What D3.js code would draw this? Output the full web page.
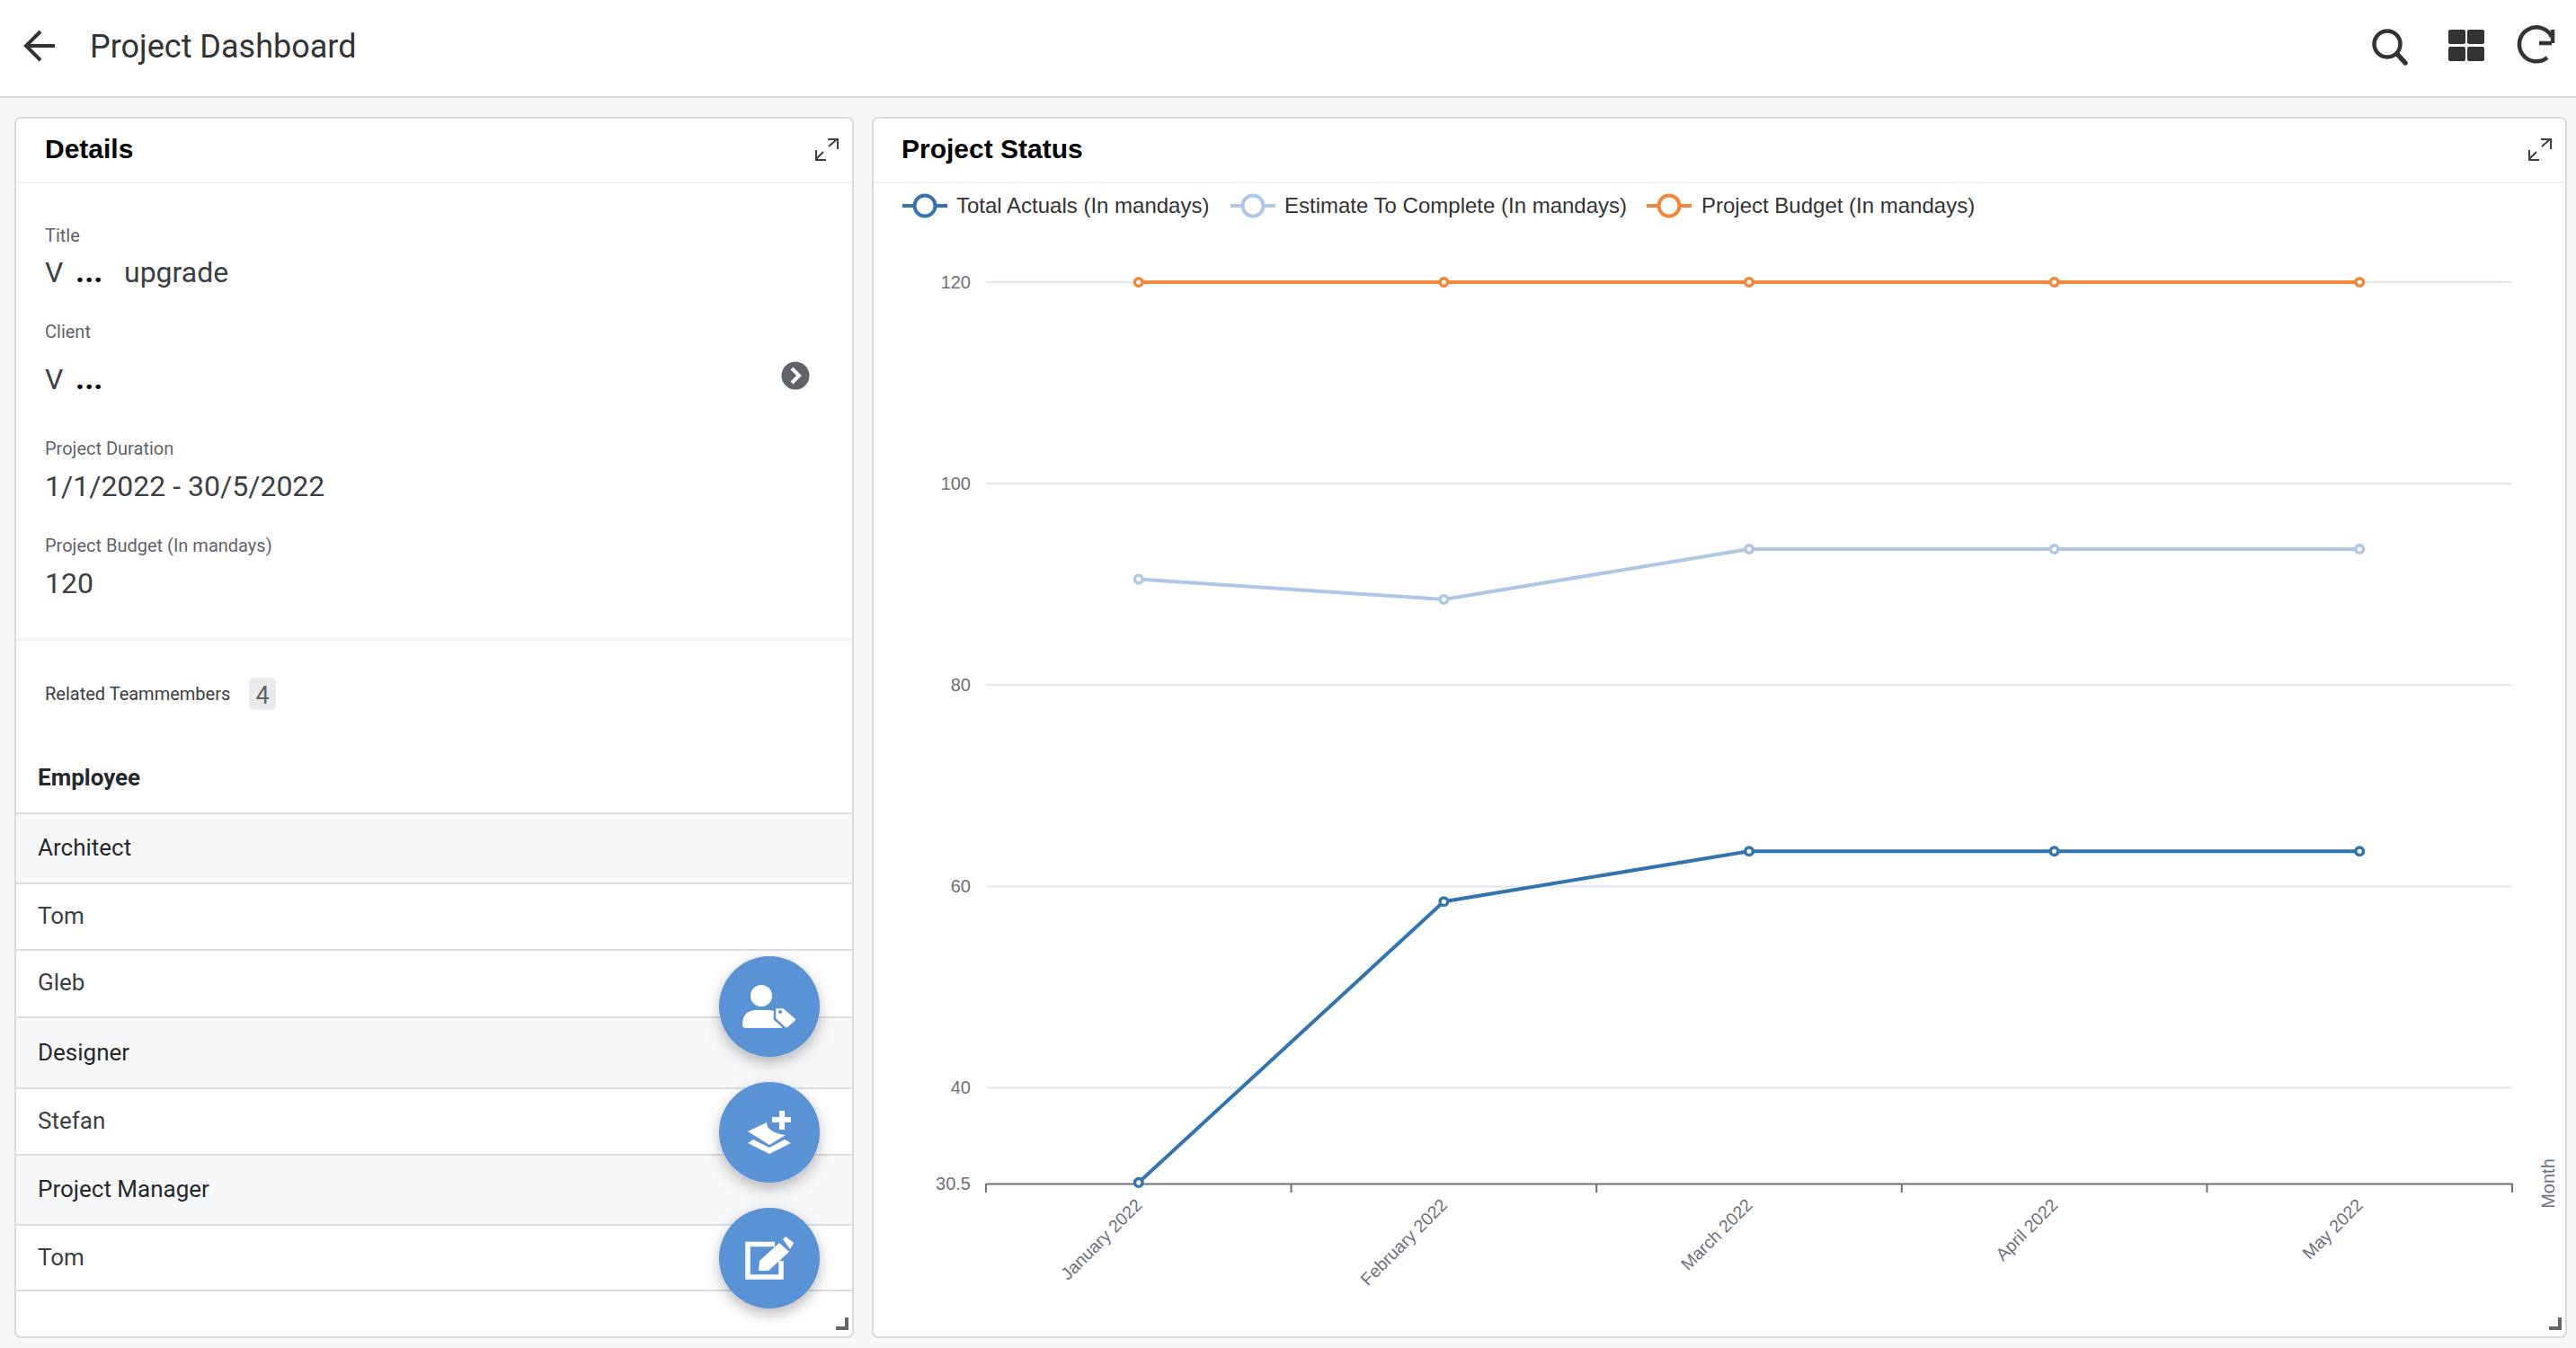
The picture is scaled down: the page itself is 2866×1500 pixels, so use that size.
<!DOCTYPE html>
<html>
<head>
<meta charset="utf-8">
<title>Project Dashboard</title>
<script src="https://cdn.jsdelivr.net/npm/d3@7"></script>
<style>
  html, body { margin: 0; padding: 0; background: #f6f7f9; }
  svg { display: block; }
  text { font-family: Roboto, sans-serif; }
  .chart text { font-family: "Liberation Sans", Arial, sans-serif; }
</style>
</head>
<body>
<svg id="page" width="2866" height="1500"></svg>
<script>
// chart data
const months = ['January 2022', 'February 2022', 'March 2022', 'April 2022', 'May 2022'];
const totalActuals = [30.6, 58.5, 63.5, 63.5, 63.5];
const estimateToComplete = [90.5, 88.5, 93.5, 93.5, 93.5];
const projectBudget = [120, 120, 120, 120, 120];
const yTicks = [30.5, 40, 60, 80, 100, 120];
const seriesNames = ['Total Actuals (In mandays)', 'Estimate To Complete (In mandays)', 'Project Budget (In mandays)'];
const seriesColors = ['#3274b0', '#aec7e8', '#f0873a'];

// details panel text
const detailFields = [
  { label: 'Title', value: 'V', dots: true, extra: 'upgrade', ly: 269, vy: 314 },
  { label: 'Client', value: 'V', dots: true, ly: 376, vy: 433 },
  { label: 'Project Duration', value: '1/1/2022 - 30/5/2022', ly: 506, vy: 552 },
  { label: 'Project Budget (In mandays)', value: '120', ly: 614, vy: 660 }
];
const teamNames = ['Architect', 'Tom', 'Gleb', 'Designer', 'Stefan', 'Project Manager', 'Tom'];
const teamIsRole = [true, false, false, true, false, true, false];
const teamBaselines = [952, 1028, 1102, 1180, 1256, 1332, 1408];
const rowLines = [905, 983, 1057, 1132, 1211, 1285, 1363, 1436];

const svg = d3.select('#page');

// soft shadow for the round buttons
const shadow = svg.append('defs').append('filter').attr('id', 'fabShadow')
  .attr('x', '-40%').attr('y', '-40%').attr('width', '180%').attr('height', '180%');
shadow.append('feDropShadow').attr('dx', 0).attr('dy', 6).attr('stdDeviation', 8)
  .attr('flood-color', '#000').attr('flood-opacity', 0.28);

// top bar
svg.append('rect').attr('width', 2866).attr('height', 108).attr('fill', '#fff');
svg.append('rect').attr('y', 107).attr('width', 2866).attr('height', 2).attr('fill', '#dcdde1');
svg.append('path').attr('d', 'M61 51H30M45 35L29 51L45 67')
  .attr('fill', 'none').attr('stroke', '#333').attr('stroke-width', 4);
svg.append('text').attr('x', 100).attr('y', 64).attr('font-size', 36).attr('fill', '#333').text('Project Dashboard');

// top bar icons
const icons = svg.append('g').attr('fill', 'none').attr('stroke', '#333').attr('stroke-width', 4.5);
icons.append('circle').attr('cx', 2656).attr('cy', 49).attr('r', 14.5);
icons.append('path').attr('d', 'M2667 60L2676 70').attr('stroke-linecap', 'round').attr('stroke-width', 5.5);
icons.append('path').attr('d', 'M2839 48H2825M2840 33V48M2839 41A19 19 0 1 0 2834 64');
[[2724, 33], [2745, 33], [2724, 52], [2745, 52]].forEach(p => {
  svg.append('rect').attr('x', p[0]).attr('y', p[1]).attr('width', 19).attr('height', 16)
    .attr('rx', 2).attr('fill', '#333');
});

// cards
function card(x, width, title, titleX) {
  svg.append('rect').attr('x', x).attr('y', 131).attr('width', width).attr('height', 1357)
    .attr('rx', 6).attr('fill', '#fff').attr('stroke', '#d9dadf').attr('stroke-width', 2);
  svg.append('rect').attr('x', x + 1).attr('y', 202).attr('width', width - 2).attr('height', 2).attr('fill', '#f1f2f4');
  svg.append('text').attr('x', titleX).attr('y', 176).attr('font-size', 30).attr('font-weight', 700)
    .style('font-family', '"Liberation Sans", Arial, sans-serif')
    .attr('fill', '#000').text(title);
  const right = x + width;
  svg.append('path')
    .attr('d', `M${right - 41} 177L${right - 33} 169M${right - 27} 163L${right - 18} 155M${right - 28} 155H${right - 17}V166M${right - 41} 167V178H${right - 30}`)
    .attr('fill', 'none').attr('stroke', '#3c3f44').attr('stroke-width', 2);
  svg.append('path').attr('d', `M${right - 7} 1466V1478H${right - 19}`)
    .attr('fill', 'none').attr('stroke', '#666').attr('stroke-width', 4);
}
card(17, 932, 'Details', 50);
card(971, 1884, 'Project Status', 1003);

// details fields
const fields = svg.append('g');
detailFields.forEach(f => {
  fields.append('text').attr('x', 50).attr('y', f.ly).attr('font-size', 20).attr('fill', '#5f6368').text(f.label);
  fields.append('text').attr('x', 50).attr('y', f.vy).attr('font-size', 32).attr('fill', '#3c4043').text(f.value);
  if (f.dots) {
    fields.append('text').attr('x', 84).attr('y', f.vy).attr('font-size', 35).attr('font-weight', 700)
      .attr('fill', '#111').text('...');
  }
  if (f.extra) {
    fields.append('text').attr('x', 138).attr('y', f.vy).attr('font-size', 32).attr('fill', '#3c4043').text(f.extra);
  }
});
svg.append('circle').attr('cx', 885).attr('cy', 418).attr('r', 15.5).attr('fill', '#5f6368');
svg.append('path').attr('d', 'M881 410L889 418L881 426').attr('fill', 'none').attr('stroke', '#fff').attr('stroke-width', 4);
svg.append('rect').attr('x', 18).attr('y', 710).attr('width', 930).attr('height', 3).attr('fill', '#f1f2f4');

// team list
svg.append('text').attr('x', 50).attr('y', 779).attr('font-size', 20).attr('fill', '#3c4043').text('Related Teammembers');
svg.append('rect').attr('x', 277).attr('y', 754).attr('width', 30).attr('height', 36).attr('rx', 5).attr('fill', '#e9eaed');
svg.append('text').attr('x', 292).attr('y', 783).attr('text-anchor', 'middle').attr('font-size', 27).attr('fill', '#5f6368').text('4');
svg.append('text').attr('x', 42).attr('y', 874).attr('font-size', 26).attr('font-weight', 700).attr('fill', '#26282b').text('Employee');

teamNames.forEach((name, i) => {
  if (teamIsRole[i]) {
    svg.append('rect').attr('x', 18).attr('y', rowLines[i]).attr('width', 930)
      .attr('height', rowLines[i + 1] - rowLines[i]).attr('fill', '#f7f8fa');
  }
  svg.append('text').attr('x', 42).attr('y', teamBaselines[i]).attr('font-size', 26)
    .attr('fill', teamIsRole[i] ? '#26282b' : '#3c4043').text(name);
});
rowLines.forEach(y => {
  svg.append('rect').attr('x', 18).attr('y', y - 1).attr('width', 930).attr('height', 2).attr('fill', '#dcdde2');
});

// round action buttons
[1120, 1260, 1400].forEach(cy => {
  svg.append('circle').attr('cx', 856).attr('cy', cy).attr('r', 56).attr('fill', '#5a92d6')
    .attr('filter', 'url(#fabShadow)');
});
const fab = svg.append('g').attr('fill', '#fff');
// person with tag
fab.append('circle').attr('cx', 847).attr('cy', 1108).attr('r', 12);
fab.append('path').attr('d', 'M826 1140Q826 1124 842 1124H856Q866 1124 870 1136L870 1144H830Q826 1144 826 1140Z');
fab.append('path').attr('d', 'M862 1121H872L886 1133Q887 1135 885 1137L877 1144Q875 1145 873 1144L862 1134Z')
  .attr('stroke', '#5a92d6').attr('stroke-width', 2.5);
fab.append('circle').attr('cx', 868).attr('cy', 1126).attr('r', 2).attr('fill', '#5a92d6');
// layers with plus
fab.append('path').attr('d', 'M832 1259L853 1249Q853 1260 874 1263L856 1274Z');
fab.append('path').attr('d', 'M832 1272L838 1268L856 1277L873 1268L880 1272L856 1284Z');
fab.append('path').attr('d', 'M859 1246H880M870 1236V1257').attr('stroke', '#fff').attr('stroke-width', 6);
// edit
fab.append('path').attr('d', 'M862 1384.5H832V1421H869V1403').attr('fill', 'none').attr('stroke', '#fff').attr('stroke-width', 5.5);
fab.append('path').attr('d', 'M844 1414L845 1403L867 1383L878 1393L855 1414Z');
fab.append('path').attr('d', 'M871 1379L874 1376L883 1383L879 1390Z');

// chart
const chart = svg.append('g').attr('class', 'chart');

const x = d3.scaleBand().domain(months).range([1097, 2795]);
const y = d3.scaleLinear().domain([30.5, 120]).range([1317, 314]);

// grid lines
chart.append('g').selectAll('line').data(yTicks.filter(d => d !== 30.5)).join('line')
  .attr('x1', x.range()[0]).attr('x2', x.range()[1])
  .attr('y1', d => y(d)).attr('y2', d => y(d))
  .attr('stroke', '#e0e6f1').attr('stroke-width', 2);

// y axis labels only
const yAxis = chart.append('g').attr('transform', `translate(${x.range()[0]},0)`)
  .call(d3.axisLeft(y).tickValues(yTicks).tickFormat(d => String(d)).tickSize(0).tickPadding(17));
yAxis.select('.domain').remove();
yAxis.selectAll('text').attr('font-size', 20).attr('fill', '#6e7079').attr('font-family', null);

// x axis, ticks sit on the band edges
const xAxis = chart.append('g').attr('transform', `translate(0,${y(30.5)})`)
  .call(d3.axisBottom(x).tickSize(0).tickPadding(0));
xAxis.select('.domain').attr('stroke', '#6e7079').attr('stroke-width', 2);
xAxis.selectAll('text')
  .attr('font-size', 19.5).attr('fill', '#6e7079').attr('font-family', null)
  .attr('text-anchor', 'end').attr('dy', null)
  .attr('transform', 'translate(5,25) rotate(-45)');
const bandEdges = months.map(m => x(m)).concat(x.range()[1]);
chart.append('g').selectAll('line').data(bandEdges).join('line')
  .attr('x1', d => d).attr('x2', d => d)
  .attr('y1', y(30.5)).attr('y2', y(30.5) + 10)
  .attr('stroke', '#6e7079').attr('stroke-width', 2);

chart.append('text').attr('transform', `translate(2842,${y(30.5)}) rotate(-90)`)
  .attr('text-anchor', 'middle').attr('font-size', 20).attr('fill', '#6e7079').text('Month');

// series
const allSeries = [totalActuals, estimateToComplete, projectBudget];
const line = d3.line().x((d, i) => x(months[i]) + x.bandwidth() / 2).y(d => y(d));
allSeries.forEach((values, s) => {
  chart.append('path').datum(values).attr('d', line)
    .attr('fill', 'none').attr('stroke', seriesColors[s]).attr('stroke-width', 4);
  chart.append('g').selectAll('circle').data(values).join('circle')
    .attr('cx', (d, i) => x(months[i]) + x.bandwidth() / 2)
    .attr('cy', d => y(d))
    .attr('r', 4.3).attr('fill', '#fff')
    .attr('stroke', seriesColors[s]).attr('stroke-width', 3.5);
});

// legend
const legendX = [1029, 1394, 1857];
const legendTextX = [1064, 1429, 1893];
const legend = chart.append('g');
seriesNames.forEach((name, s) => {
  legend.append('line').attr('x1', legendX[s] - 25).attr('x2', legendX[s] + 25)
    .attr('y1', 229).attr('y2', 229).attr('stroke', seriesColors[s]).attr('stroke-width', 4);
  legend.append('circle').attr('cx', legendX[s]).attr('cy', 229).attr('r', 11.5)
    .attr('fill', '#fff').attr('stroke', seriesColors[s]).attr('stroke-width', 4);
  legend.append('text').attr('x', legendTextX[s]).attr('y', 237).attr('font-size', 24)
    .attr('fill', '#333').text(name);
});
</script>
</body>
</html>
